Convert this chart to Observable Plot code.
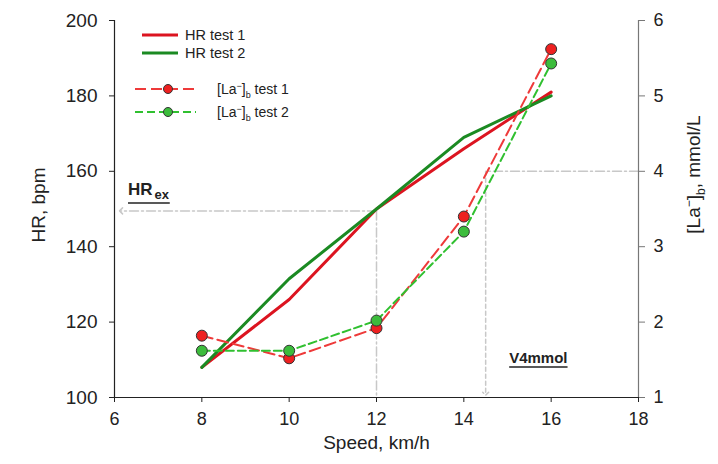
<!DOCTYPE html>
<html>
<head>
<meta charset="utf-8">
<script src="https://cdn.jsdelivr.net/npm/d3@7"></script>
<script src="https://cdn.jsdelivr.net/npm/@observablehq/plot@0.6"></script>
<style>
  html, body { margin: 0; padding: 0; background: #fff; }
  #wrap { position: relative; width: 718px; height: 464px; font-family: "Liberation Sans", Arial, sans-serif; }
  #legend { position: absolute; left: 0; top: 0; pointer-events: none; }
</style>
</head>
<body>
<div id="wrap"></div>
<script>
// ---- data ----
const speeds = [8, 10, 12, 14, 16];
const hrTest1 = [108, 126, 150, 166, 181];
const hrTest2 = [108, 131.5, 150, 169, 180];
const laTest1 = [1.82, 1.52, 1.92, 3.40, 5.62];
const laTest2 = [1.62, 1.62, 2.02, 3.20, 5.43];
const xTicks = [6, 8, 10, 12, 14, 16, 18];
const hrTicks = [100, 120, 140, 160, 180, 200];
const laTicks = [1, 2, 3, 4, 5, 6];
const hrEx = 149.5, vAtHrEx = 12;   // HRex threshold
const la4 = 4, v4mmol = 14.5;        // V4mmol threshold
const xMin = 6, xMax = 18, hrMin = 100, hrMax = 200, laMin = 1, laMax = 6;

// lactate -> HR-axis mapping (right axis)
const toHR = l => hrMin + (l - laMin) * (hrMax - hrMin) / (laMax - laMin);

const colors = {
  hr1: "#dc1420", hr2: "#1b8a22",
  la1: "#ee3a3a", la2: "#30c030",
  dot1: "#ee2020", dot2: "#3cbc3c",
  ref: "#c8c8c8"
};

const hr1 = speeds.map((s, i) => ({x: s, y: hrTest1[i]}));
const hr2 = speeds.map((s, i) => ({x: s, y: hrTest2[i]}));
const la1 = speeds.map((s, i) => ({x: s, y: toHR(laTest1[i])}));
const la2 = speeds.map((s, i) => ({x: s, y: toHR(laTest2[i])}));

const refHrExH = [{x: vAtHrEx, y: hrEx}, {x: xMin + 0.15, y: hrEx}];
const refHrExV = [{x: vAtHrEx, y: hrEx}, {x: vAtHrEx, y: hrMin}];
const refV4H = [{x: xMax, y: toHR(la4)}, {x: v4mmol, y: toHR(la4)}];
const refV4V = [{x: v4mmol, y: toHR(la4)}, {x: v4mmol, y: hrMin + 1}];

const font = "Liberation Sans, Arial, sans-serif";

const chart = Plot.plot({
  width: 718, height: 464,
  marginLeft: 114, marginRight: 80, marginTop: 20, marginBottom: 67,
  style: {fontFamily: font, fontSize: "18px", color: "#222", background: "#fff"},
  x: {domain: [xMin, xMax]},
  y: {domain: [hrMin, hrMax]},
  marks: [
    // reference lines
    Plot.line(refHrExH, {x: "x", y: "y", stroke: colors.ref, strokeWidth: 1.5, strokeDasharray: "9,3,2,3", markerEnd: "arrow"}),
    Plot.line(refHrExV, {x: "x", y: "y", stroke: colors.ref, strokeWidth: 1.5, strokeDasharray: "9,3,2,3"}),
    Plot.line(refV4H, {x: "x", y: "y", stroke: colors.ref, strokeWidth: 1.5, strokeDasharray: "9,3,2,3"}),
    Plot.line(refV4V, {x: "x", y: "y", stroke: colors.ref, strokeWidth: 1.5, strokeDasharray: "4,3", markerEnd: "arrow"}),
    // axes lines
    Plot.ruleX([xMin], {stroke: "#222", strokeWidth: 1.2}),
    Plot.ruleX([xMax], {stroke: "#777", strokeWidth: 1.2}),
    Plot.ruleY([hrMin], {stroke: "#222", strokeWidth: 1.2}),
    // HR lines
    Plot.line(hr1, {x: "x", y: "y", stroke: colors.hr1, strokeWidth: 3}),
    Plot.line(hr2, {x: "x", y: "y", stroke: colors.hr2, strokeWidth: 3}),
    // lactate lines
    Plot.line(la1, {x: "x", y: "y", stroke: colors.la1, strokeWidth: 2, strokeDasharray: "11,5"}),
    Plot.line(la2, {x: "x", y: "y", stroke: colors.la2, strokeWidth: 2, strokeDasharray: "8,4"}),
    Plot.dot(la1, {x: "x", y: "y", r: 5.5, fill: colors.dot1, stroke: "#333", strokeWidth: 1}),
    Plot.dot(la2, {x: "x", y: "y", r: 5.5, fill: colors.dot2, stroke: "#333", strokeWidth: 1}),
    // axes
    Plot.axisX({ticks: xTicks, tickSize: 5, tickPadding: 10, label: null, fontSize: 18, stroke: "#222"}),
    Plot.axisY({ticks: hrTicks, tickSize: 5, tickPadding: 12, label: null, fontSize: 19, stroke: "#222"}),
    Plot.axisY({anchor: "right", ticks: laTicks.map(toHR), tickFormat: (d) => String(Math.round(laMin + (d - hrMin) * (laMax - laMin) / (hrMax - hrMin))), tickSize: 6, tickPadding: 9, label: null, fontSize: 18, stroke: "#777"}),
    // axis titles
    Plot.text(["HR, bpm"], {frameAnchor: "left", textAnchor: "middle", dx: -76, dy: -4, rotate: -90, fontSize: 19, fill: "#222"}),
    Plot.text(["Speed, km/h"], {frameAnchor: "bottom", lineAnchor: "middle", dy: 45, fontSize: 19, fill: "#222"})
  ]
});

const wrap = document.getElementById("wrap");
wrap.appendChild(chart);

const svg = d3.select(chart);
const xs = chart.scale("x"), ys = chart.scale("y");

// Right axis title with sub/superscript
{
  const t = svg.append("text")
    .attr("transform", `translate(${xs.apply(xMax) + 62},${ys.apply(toHR(3.95))}) rotate(-90)`)
    .attr("text-anchor", "middle")
    .attr("font-family", font).attr("font-size", 19).attr("fill", "#222");
  t.append("tspan").text("[La");
  t.append("tspan").attr("font-size", 12).attr("dy", -7).text("\u2212");
  t.append("tspan").attr("dy", 7).text("]");
  t.append("tspan").attr("font-size", 12).attr("dy", 5).text("b");
  t.append("tspan").attr("dy", -5).text(", mmol/L");
}

// HRex label
{
  const x0 = xs.apply(6.32), y0 = ys.apply(153.6);
  const t = svg.append("text").attr("x", x0).attr("y", y0).attr("text-anchor", "start")
    .attr("font-family", font).attr("font-weight", "bold").attr("font-size", 17).attr("fill", "#222");
  t.append("tspan").text("HR");
  t.append("tspan").attr("font-size", 13).attr("dy", 4).attr("dx", 2).text("ex");
  const bb = t.node().getBBox();
  svg.append("line").attr("x1", bb.x).attr("x2", bb.x + bb.width).attr("y1", y0 + 8).attr("y2", y0 + 8)
    .attr("stroke", "#222").attr("stroke-width", 1.5);
}

// V4mmol label
{
  const x0 = xs.apply(15.05), y0 = ys.apply(toHR(1.45));
  const t = svg.append("text").attr("x", x0).attr("y", y0).attr("text-anchor", "start")
    .attr("font-family", font).attr("font-weight", "bold").attr("font-size", 15).attr("fill", "#222")
    .text("V4mmol");
  const bb = t.node().getBBox();
  svg.append("line").attr("x1", bb.x).attr("x2", bb.x + bb.width).attr("y1", y0 + 4).attr("y2", y0 + 4)
    .attr("stroke", "#222").attr("stroke-width", 1.5);
}

// Legend overlay
{
  const lg = d3.select(wrap).append("svg").attr("id", "legend").attr("width", 718).attr("height", 464);
  const items = [
    {type: "hr", color: colors.hr1, label: "HR test 1", y: 35},
    {type: "hr", color: colors.hr2, label: "HR test 2", y: 53},
    {type: "la", color: colors.la1, dot: colors.dot1, label: "1", y: 89, dash: "11,5"},
    {type: "la", color: colors.la2, dot: colors.dot2, label: "2", y: 112, dash: "8,4"}
  ];
  for (const it of items) {
    if (it.type === "hr") {
      lg.append("line").attr("x1", 142).attr("x2", 178).attr("y1", it.y).attr("y2", it.y)
        .attr("stroke", it.color).attr("stroke-width", 3);
      lg.append("text").attr("x", 185).attr("y", it.y + 5).attr("font-family", font).attr("font-size", 14.5)
        .attr("fill", "#222").text(it.label);
    } else {
      lg.append("line").attr("x1", 135).attr("x2", 196).attr("y1", it.y).attr("y2", it.y)
        .attr("stroke", it.color).attr("stroke-width", 2).attr("stroke-dasharray", it.dash);
      lg.append("circle").attr("cx", 168).attr("cy", it.y).attr("r", 4.5)
        .attr("fill", it.dot).attr("stroke", "#333").attr("stroke-width", 1);
      const t = lg.append("text").attr("x", 217).attr("y", it.y + 5).attr("font-family", font)
        .attr("font-size", 14).attr("fill", "#222");
      t.append("tspan").text("[La");
      t.append("tspan").attr("font-size", 9).attr("dy", -5).text("\u2212");
      t.append("tspan").attr("dy", 5).text("]");
      t.append("tspan").attr("font-size", 9).attr("dy", 4).text("b");
      t.append("tspan").attr("dy", -4).text(" test " + it.label);
    }
  }
}
</script>
</body>
</html>
